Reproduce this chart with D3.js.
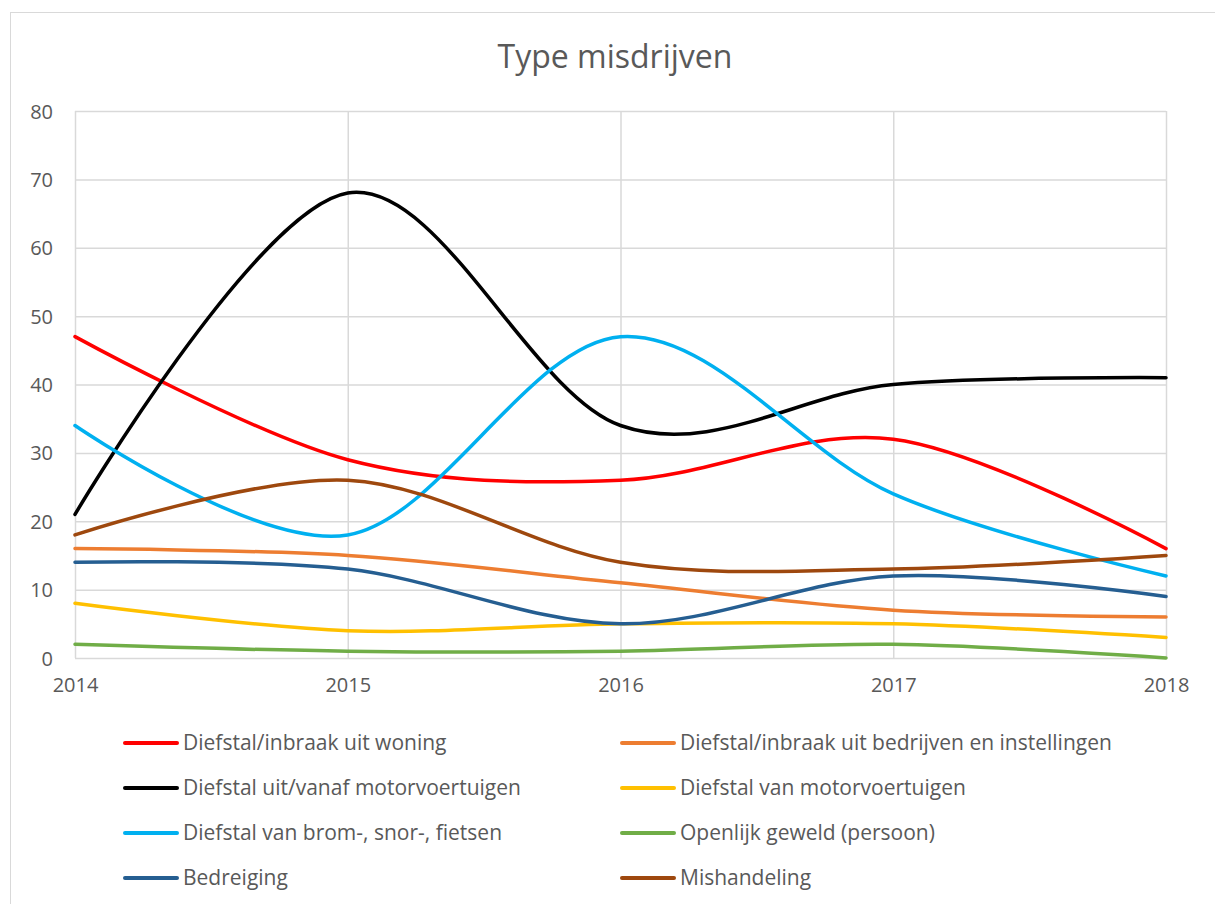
<!DOCTYPE html>
<html>
<head>
<meta charset="utf-8">
<script src="https://cdn.jsdelivr.net/npm/d3@7"></script>
<style>
  body { margin: 0; background: #fff; }
  text { font-family: "Open Sans", sans-serif; fill: #595959; }
</style>
</head>
<body>
<script>
var width = 1215;
var height = 904;

var years = [2014, 2015, 2016, 2017, 2018];
var yTicks = [0, 10, 20, 30, 40, 50, 60, 70, 80];

// one array per misdrijf, 2014..2018
var woning = [47, 29, 26, 32, 16];
var bedrijven = [16, 15, 11, 7, 6];
var uitMotor = [21, 68, 34, 40, 41];
var vanMotor = [8, 4, 5, 5, 3];
var fietsen = [34, 18, 47, 24, 12];
var geweld = [2, 1, 1, 2, 0];
var bedreiging = [14, 13, 5, 12, 9];
var mishandeling = [18, 26, 14, 13, 15];

var names = [
  "Diefstal/inbraak uit woning",
  "Diefstal/inbraak uit bedrijven en instellingen",
  "Diefstal uit/vanaf motorvoertuigen",
  "Diefstal van motorvoertuigen",
  "Diefstal van brom-, snor-, fietsen",
  "Openlijk geweld (persoon)",
  "Bedreiging",
  "Mishandeling"
];
var colors = ["#ff0000", "#ed7d31", "#000000", "#ffc000", "#00b0f0", "#70ad47", "#255e91", "#9e480e"];
var values = [woning, bedrijven, uitMotor, vanMotor, fietsen, geweld, bedreiging, mishandeling];

var svg = d3.select("body")
            .append("svg")
            .attr("width", width)
            .attr("height", height);

// chart border
svg.append("rect")
  .attr("x", 10.5).attr("y", 12.5)
  .attr("width", width + 20).attr("height", height + 20)
  .attr("fill", "none")
  .attr("stroke", "#d9d9d9");

svg.append("text")
  .attr("x", 615).attr("y", 68)
  .attr("text-anchor", "middle")
  .style("font-size", "32px")
  .text("Type misdrijven");

var x = d3.scaleLinear().domain([2014, 2018]).range([75, 1166]);
var y = d3.scaleLinear().domain([0, 80]).range([658, 111]);

// gridlines
svg.append("g")
  .attr("transform", "translate(75,0)")
  .call(d3.axisLeft(y).tickValues(yTicks).tickSize(-(1166 - 75)).tickFormat(""))
  .call(function(g) {
    g.select(".domain").remove();
    g.selectAll("line").attr("stroke", "#d9d9d9").attr("stroke-width", 1.5);
  });

svg.append("g")
  .attr("transform", "translate(0,658)")
  .call(d3.axisBottom(x).tickValues(years).tickSize(-(658 - 111)).tickFormat(""))
  .call(function(g) {
    g.select(".domain").remove();
    g.selectAll("line").attr("stroke", "#d9d9d9").attr("stroke-width", 1.5);
  });

// tick labels
var yAxis = svg.append("g")
  .attr("transform", "translate(75,0)")
  .call(d3.axisLeft(y).tickValues(yTicks).tickSize(0).tickPadding(22));
yAxis.select(".domain").remove();
yAxis.selectAll("text").style("font-size", "20px").attr("fill", "#595959").attr("dy", "0.35em");

var xAxis = svg.append("g")
  .attr("transform", "translate(0,658)")
  .call(d3.axisBottom(x).tickValues(years).tickSize(0).tickPadding(20).tickFormat(d3.format("d")));
xAxis.select(".domain").remove();
xAxis.selectAll("text").style("font-size", "20px").attr("fill", "#595959");

var line = d3.line()
  .x(function(d, i) { return x(years[i]); })
  .y(function(d) { return y(d); })
  .curve(d3.curveCatmullRom.alpha(0));

for (var i = 0; i < values.length; i++) {
  svg.append("path")
    .attr("d", line(values[i]))
    .attr("fill", "none")
    .attr("stroke", colors[i])
    .attr("stroke-width", 3.5)
    .attr("stroke-linecap", "round");
}

// legend, two columns
var legend = svg.append("g");
for (var j = 0; j < names.length; j++) {
  var col = j % 2;
  var row = Math.floor(j / 2);
  var lx = col === 0 ? 125 : 622;
  var ly = 743 + row * 45;
  legend.append("line")
    .attr("x1", lx).attr("x2", lx + 52)
    .attr("y1", ly).attr("y2", ly)
    .attr("stroke", colors[j])
    .attr("stroke-width", 4)
    .attr("stroke-linecap", "round");
  legend.append("text")
    .attr("x", lx + 58).attr("y", ly)
    .attr("dy", "0.35em")
    .style("font-size", "21px")
    .text(names[j]);
}
</script>
</body>
</html>
